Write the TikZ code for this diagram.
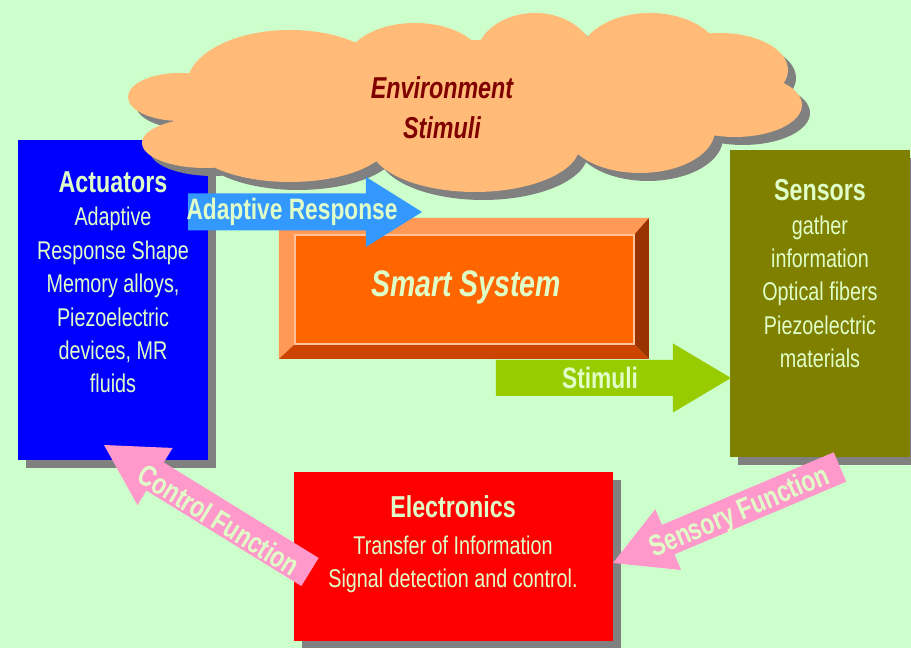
\documentclass[tikz,border=0pt]{standalone}
\usepackage{fontspec}
\setmainfont[FakeStretch=0.77]{Liberation Sans}

\definecolor{bggreen}{HTML}{CCFFCC}
\definecolor{txtgreen}{HTML}{E0FFC8}
\definecolor{shadowgray}{HTML}{808080}
\definecolor{cloudpeach}{HTML}{FFBB77}
\definecolor{actblue}{HTML}{0000FF}
\definecolor{sensolive}{HTML}{7F7F00}
\definecolor{elecred}{HTML}{FF0000}
\definecolor{smartface}{HTML}{FF6600}
\definecolor{beveltop}{HTML}{FF9955}
\definecolor{bevelbottom}{HTML}{CC4400}
\definecolor{bevelright}{HTML}{993300}
\definecolor{arrowblue}{HTML}{3399FF}
\definecolor{arrowgreen}{HTML}{99CC00}
\definecolor{arrowpink}{HTML}{FF99CC}
\definecolor{envred}{HTML}{800000}

\tikzset{
  boxtext/.style={text=txtgreen, align=center, inner sep=0pt, font=\fontsize{7.3}{9.5}\selectfont},
  headtext/.style={text=txtgreen, inner sep=0pt, font=\fontsize{8.4}{10}\selectfont\bfseries},
  shade box/.style={fill=shadowgray}
}

\begin{document}
\begin{tikzpicture}

\useasboundingbox (0,0) rectangle (9.11,6.48);
\fill[bggreen] (0,0) rectangle (9.11,6.48);

%% boxes
\fill[shade box] (0.26,1.80) rectangle (2.16,5.00);
\fill[actblue] (0.18,1.88) rectangle (2.08,5.08);

\fill[shade box] (7.38,1.83) rectangle (9.18,4.90);
\fill[sensolive] (7.30,1.91) rectangle (9.10,4.98);

\fill[shade box] (3.02,-0.01) rectangle (6.21,1.68);
\fill[elecred] (2.94,0.07) rectangle (6.13,1.76);

%% cloud, shadow first
\foreach \col/\dx/\dy in {shadowgray/0.08/-0.08, cloudpeach/0/0} {
\begin{scope}[shift={(\dx,\dy)}]
\fill[\col] (4.60,5.48) ellipse (2.60 and 0.60)
  (1.80,5.51) ellipse (0.52 and 0.24)
  (2.05,5.05) ellipse (0.63 and 0.25)
  (2.90,5.08) ellipse (1.00 and 0.42)
  (4.75,5.03) ellipse (1.05 and 0.47)
  (6.40,5.18) ellipse (0.75 and 0.43)
  (7.35,5.43) ellipse (0.67 and 0.32)
  (7.20,5.78) ellipse (0.68 and 0.37)
  (6.50,5.88) ellipse (0.72 and 0.47)
  (5.35,5.88) ellipse (0.60 and 0.47)
  (4.15,5.83) ellipse (0.70 and 0.42)
  (2.90,5.63) ellipse (1.03 and 0.55);
\end{scope}
}

\node[align=center, text=envred, font=\fontsize{8.6}{11.4}\selectfont\bfseries\itshape] (env) at (4.42,5.40) {Environment\\Stimuli};

%% smart system, bevelled
\fill[beveltop] (2.79,4.30) -- (6.49,4.30) -- (6.34,4.13) -- (2.95,4.13) -- cycle;
\fill[beveltop] (2.79,4.30) -- (2.95,4.13) -- (2.95,3.04) -- (2.79,2.89) -- cycle;
\fill[bevelbottom] (2.79,2.89) -- (2.95,3.04) -- (6.34,3.04) -- (6.49,2.89) -- cycle;
\fill[bevelright] (6.49,4.30) -- (6.49,2.89) -- (6.34,3.04) -- (6.34,4.13) -- cycle;
\draw[fill=smartface, draw=beveltop!60!white, line width=0.3pt] (2.95,3.04) rectangle (6.34,4.13);

\node[text=txtgreen, font=\fontsize{10.5}{12}\selectfont\bfseries\itshape] (smart) at (4.66,3.61) {Smart System};

%% box texts
\node[boxtext, anchor=north] (act) at (1.13,4.77) {{\fontsize{8.6}{9.5}\selectfont\bfseries Actuators}\\Adaptive\\Response Shape\\Memory alloys,\\Piezoelectric\\devices, MR\\fluids};

\node[boxtext, anchor=north] (sens) at (8.20,4.69) {{\fontsize{8.6}{9.5}\selectfont\bfseries Sensors}\\gather\\information\\Optical fibers\\Piezoelectric\\materials};

\node[boxtext, anchor=north] (elec) at (4.53,1.53) {{\fontsize{8.6}{9.5}\selectfont\bfseries Electronics}\\[1pt]Transfer of Information\\Signal detection and control.};

%% arrows
\fill[arrowblue] (1.88,4.545) -- (3.66,4.545) -- (3.66,4.71) -- (4.22,4.36) -- (3.66,4.01) -- (3.66,4.175) -- (1.88,4.175) -- cycle;
\node[headtext] (adapt) at (2.92,4.36) {Adaptive Response};

\fill[arrowgreen] (4.96,2.88) -- (6.73,2.88) -- (6.73,3.045) -- (7.31,2.70) -- (6.73,2.355) -- (6.73,2.52) -- (4.96,2.52) -- cycle;
\node[headtext] (stim) at (6.00,2.70) {Stimuli};

\begin{scope}[shift={(3.10,0.76)}, rotate=148.35]
\fill[arrowpink] (0,-0.165) -- (1.82,-0.165) -- (1.82,-0.335) -- (2.42,0) -- (1.82,0.335) -- (1.82,0.165) -- (0,0.165) -- cycle;
\end{scope}
\node[headtext, rotate=-31.65] (ctrl) at (2.19,1.28) {Control Function};

\begin{scope}[shift={(8.40,1.81)}, rotate=202.92]
\fill[arrowpink] (0,-0.16) -- (1.865,-0.16) -- (1.865,-0.33) -- (2.465,0) -- (1.865,0.33) -- (1.865,0.16) -- (0,0.16) -- cycle;
\end{scope}
\node[headtext, rotate=22.92] (sensfn) at (7.40,1.35) {Sensory Function};

\end{tikzpicture}
\end{document}
